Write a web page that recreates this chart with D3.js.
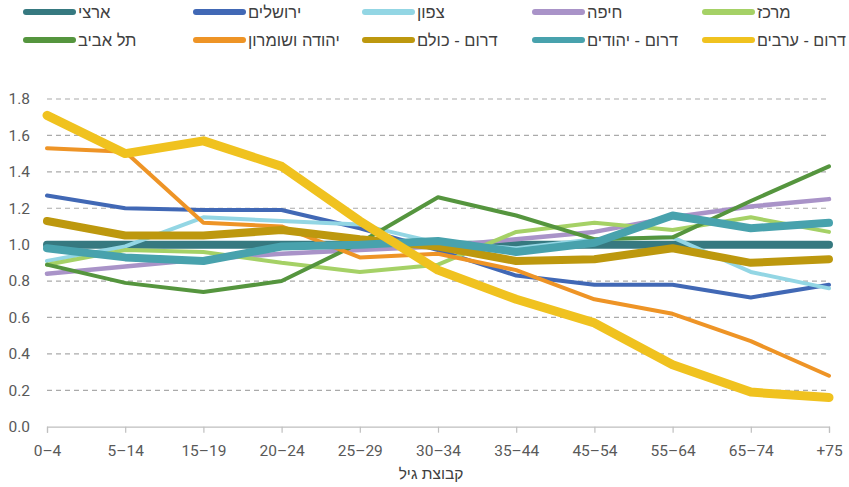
<!DOCTYPE html>
<html><head><meta charset="utf-8">
<script src="https://cdn.jsdelivr.net/npm/d3@7"></script>
<style>body{margin:0;background:#fff}svg{display:block}</style>
</head><body>
<svg id="c" width="849" height="487"></svg>
<script>
const categories = ["0–4","5–14","15–19","20–24","25–29","30–34","35–44","45–54","55–64","65–74","+75"];
const yTicks = [0,0.2,0.4,0.6,0.8,1.0,1.2,1.4,1.6,1.8];
const seriesNames = ["ארצי","ירושלים","צפון","חיפה","מרכז","תל אביב","יהודה ושומרון","דרום - כולם","דרום - יהודים","דרום - ערבים"];
const artzi      = [1.00,1.00,1.00,1.00,1.00,1.00,1.00,1.00,1.00,1.00,1.00];
const jerusalem  = [1.27,1.20,1.19,1.19,1.09,0.97,0.83,0.78,0.78,0.71,0.78];
const north      = [0.91,0.99,1.15,1.13,1.11,1.01,0.98,1.03,1.04,0.85,0.76];
const haifa      = [0.84,0.88,0.92,0.95,0.97,0.99,1.03,1.07,1.15,1.21,1.25];
const center     = [0.89,0.97,0.96,0.90,0.85,0.89,1.07,1.12,1.08,1.15,1.07];
const telAviv    = [0.89,0.79,0.74,0.80,1.01,1.26,1.16,1.03,1.04,1.24,1.43];
const judea      = [1.53,1.51,1.12,1.10,0.93,0.95,0.86,0.70,0.62,0.47,0.28];
const southAll   = [1.13,1.05,1.05,1.08,1.03,0.99,0.91,0.92,0.98,0.90,0.92];
const southJews  = [0.98,0.93,0.91,0.99,1.00,1.02,0.96,1.01,1.16,1.09,1.12];
const southArabs = [1.71,1.50,1.57,1.43,1.13,0.86,0.70,0.57,0.34,0.19,0.16];
const seriesValues = [artzi,jerusalem,north,haifa,center,telAviv,judea,southAll,southJews,southArabs];
const colors = ["#367980","#4168B5","#93D6E4","#A993C8","#A5D166","#55953E","#EE9426","#BD980E","#48A2AD","#F0C21F"];
const widths = [8,4,4,4.5,4,4,4,8,8,9];

const svg = d3.select("#c");
const x = d3.scalePoint().domain(categories).range([47,829]);
const y = d3.scaleLinear().domain([0,1.8]).range([426.7,99]);
const tickFont = "Roboto, 'Liberation Sans', sans-serif";
const hebFont = "'Liberation Sans', Arimo, 'Noto Sans', sans-serif";

// grid
svg.append("g").selectAll("line").data(yTicks.filter(d=>d>0)).join("line")
  .attr("x1",47).attr("x2",829).attr("y1",d=>y(d)).attr("y2",d=>y(d))
  .attr("stroke","#aaaaaa").attr("stroke-width",1.2).attr("stroke-dasharray","5,4");

// y labels
svg.append("g").selectAll("text").data(yTicks).join("text")
  .attr("x",30).attr("y",d=>y(d)).attr("dy","0.35em").attr("text-anchor","end")
  .attr("font-family",tickFont).attr("font-size",15.5).attr("fill","#595959")
  .text(d=>d.toFixed(1));

// x axis
const xa = svg.append("g").attr("transform","translate(0,426.7)")
  .call(d3.axisBottom(x).tickSize(6).tickPadding(12));
xa.select(".domain").attr("stroke","#bfbfbf").attr("stroke-width",1.2);
xa.selectAll(".tick line").attr("stroke","#bfbfbf").attr("stroke-width",1.2);
xa.selectAll(".tick text").attr("font-family",tickFont).attr("font-size",15.5).attr("fill","#595959");

svg.append("text").attr("x",431).attr("y",479).attr("text-anchor","middle")
  .attr("font-family",hebFont).attr("font-size",15.5).attr("fill","#404040").text("קבוצת גיל");

// lines
const line = d3.line().x((d,i)=>x(categories[i])).y(d=>y(d));
svg.append("g").selectAll("path").data(seriesValues).join("path")
  .attr("d",d=>line(d)).attr("fill","none")
  .attr("stroke",(d,i)=>colors[i]).attr("stroke-width",(d,i)=>widths[i])
  .attr("stroke-linecap","round").attr("stroke-linejoin","round");

// legend
const legX = [23,193,362,532,702];
const legY = [12,40];
const lg = svg.append("g").selectAll("g").data(seriesNames).join("g")
  .attr("transform",(d,i)=>`translate(${legX[i%5]},${legY[Math.floor(i/5)]})`);
lg.append("line").attr("x1",3).attr("x2",50).attr("y1",0).attr("y2",0)
  .attr("stroke",(d,i)=>colors[i]).attr("stroke-width",6).attr("stroke-linecap","round");
lg.append("text").attr("x",55).attr("y",0).attr("dy","0.35em")
  .attr("font-family",hebFont).attr("font-size",16.5).attr("fill","#404040")
  .text(d=>d)
  .each(function(d,i){
    const avail = 846 - (legX[i%5] + 55);
    const w = this.getComputedTextLength();
    if (w > avail) d3.select(this).attr("textLength",avail).attr("lengthAdjust","spacingAndGlyphs");
  });
</script>
</body></html>
